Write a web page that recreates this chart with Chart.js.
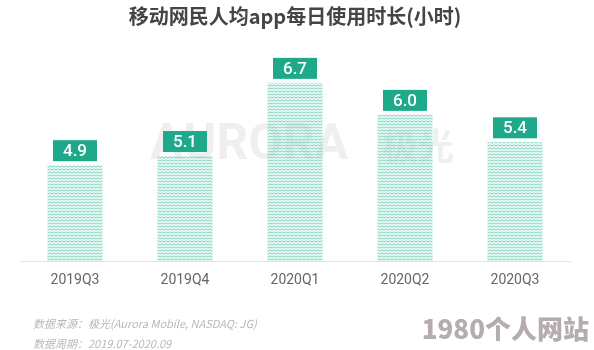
<!DOCTYPE html>
<html>
<head>
<meta charset="utf-8">
<script src="https://cdn.jsdelivr.net/npm/chart.js@4"></script>
<style>
  html, body { margin: 0; padding: 0; background: #fff; }
  #wrap { width: 594px; height: 350px; position: relative; }
</style>
</head>
<body>
<div id="wrap"><canvas id="myChart" width="594" height="350"></canvas></div>
<script>
const categories = ["2019Q3", "2019Q4", "2020Q1", "2020Q2", "2020Q3"];
const hours = [4.9, 5.1, 6.7, 6.0, 5.4];
const titleText = "移动网民人均app每日使用时长(小时)";
const sourceNote = "数据来源：极光(Aurora Mobile, NASDAQ: JG)";
const periodNote = "数据周期：2019.07-2020.09";

// fine zigzag fill like the original bars
function zigzagPattern() {
  const c = document.createElement("canvas");
  c.width = 4;
  c.height = 3;
  const g = c.getContext("2d");
  g.fillStyle = "rgba(210, 240, 233, 0.35)";
  g.fillRect(0, 0, 4, 3);
  g.strokeStyle = "rgba(80, 196, 170, 0.75)";
  g.lineWidth = 1;
  g.beginPath();
  g.moveTo(0, 2.2);
  g.lineTo(2, 0.8);
  g.lineTo(4, 2.2);
  g.stroke();
  return g.createPattern(c, "repeat");
}

const extras = {
  id: "extras",
  beforeDatasetsDraw(chart) {
    const ctx = chart.ctx;
    ctx.save();
    ctx.fillStyle = "#efefef";
    ctx.textBaseline = "middle";
    ctx.textAlign = "left";
    ctx.font = "bold 50px Roboto";
    ctx.fillText("AURORA", 150, 146);
    ctx.font = "bold 36px 'Noto Sans CJK SC'";
    ctx.fillText("极光", 382, 146);
    ctx.restore();
  },
  afterDatasetsDraw(chart) {
    const ctx = chart.ctx;
    const meta = chart.getDatasetMeta(0);
    ctx.save();
    meta.data.forEach((bar, i) => {
      const w = 44, h = 21;
      const x = bar.x - w / 2;
      const y = bar.y - 4 - h;
      ctx.fillStyle = "#1fa98b";
      ctx.fillRect(x, y, w, h);
      ctx.fillStyle = "#ffffff";
      ctx.font = "500 17px Roboto";
      ctx.textAlign = "center";
      ctx.textBaseline = "middle";
      ctx.fillText(hours[i].toFixed(1), bar.x, y + h / 2 + 1);
    });
    ctx.restore();
  },
  afterDraw(chart) {
    const ctx = chart.ctx;
    ctx.save();
    ctx.fillStyle = "#b8b8b8";
    ctx.textBaseline = "middle";
    ctx.textAlign = "left";
    ctx.font = "italic 11px 'Noto Sans CJK SC'";
    ctx.fillText(sourceNote, 33, 324);
    ctx.fillText(periodNote, 33, 344);
    ctx.fillStyle = "#b5adad";
    ctx.font = "900 26px 'Noto Sans CJK SC'";
    ctx.textAlign = "right";
    ctx.fillText("1980个人网站", 589, 329);
    ctx.restore();
  }
};

const data = {
  labels: categories,
  datasets: [
    {
      label: "人均使用时长",
      data: hours,
      backgroundColor: zigzagPattern(),
      borderWidth: 0,
      barPercentage: 0.5,
      categoryPercentage: 1.0,
    },
  ],
};

const config = {
  type: "bar",
  data: data,
  options: {
    responsive: false,
    animation: false,
    layout: { padding: { left: 20, right: 24, top: 0, bottom: 50 } },
    plugins: {
      legend: { display: false },
      tooltip: { enabled: false },
      title: {
        display: true,
        text: titleText,
        color: "#454545",
        font: { size: 20, weight: "bold", family: "'Noto Sans CJK SC'" },
        padding: { top: 4, bottom: 32 },
      },
    },
    scales: {
      x: {
        grid: { display: false, drawTicks: false },
        border: { display: true, color: "#e6e6e6", width: 1 },
        ticks: { color: "#666666", font: { size: 14, family: "Roboto" }, padding: 11 },
      },
      y: {
        display: false,
        min: 2.8,
        max: 7.2,
      },
    },
  },
  plugins: [extras],
};

const ctx = document.getElementById("myChart").getContext("2d");
new Chart(ctx, config);
</script>
</body>
</html>
